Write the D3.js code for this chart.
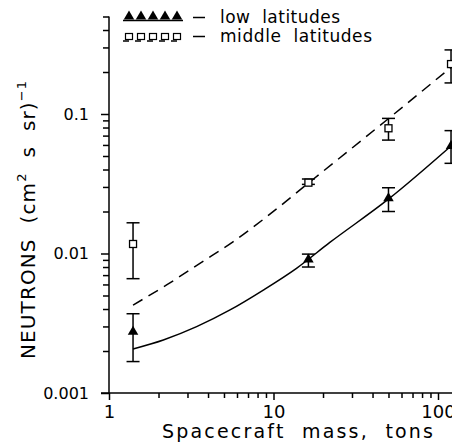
<!DOCTYPE html>
<html>
<head>
<meta charset="utf-8">
<script src="https://cdn.jsdelivr.net/npm/d3@7"></script>
<style>
  html, body { margin: 0; padding: 0; background: #fff; }
  svg { display: block; font-family: "DejaVu Sans", sans-serif; }
</style>
</head>
<body>
<svg width="455" height="444"></svg>
<script>
// data
const massTicks = [1, 10, 100];
const massMinor = [2, 3, 4, 5, 6, 7, 8, 9, 20, 30, 40, 50, 60, 70, 80, 90];
const fluxTicks = [0.001, 0.01, 0.1];
const fluxMinor = [0.002, 0.003, 0.004, 0.005, 0.006, 0.007, 0.008, 0.009,
  0.02, 0.03, 0.04, 0.05, 0.06, 0.07, 0.08, 0.09, 0.2, 0.3, 0.4, 0.5];
const fluxTickLabels = ["0.001", "0.01", "0.1"];

const pointMass = [1.4, 16.3, 50, 120];
const lowFlux = [0.0027, 0.0089, 0.0245, 0.058];
const lowErrHi = [0.0037, 0.0099, 0.0296, 0.076];
const lowErrLo = [0.00168, 0.0080, 0.0200, 0.0443];
const midFlux = [0.0117, 0.0322, 0.079, 0.228];
const midErrHi = [0.0166, 0.0342, 0.093, 0.288];
const midErrLo = [0.0066, 0.0313, 0.065, 0.167];

const lowCurveMass = [1.4, 2.14, 3.41, 5.44, 8.67, 13.8, 22.0, 49.9, 120];
const lowCurveFlux = [0.00207, 0.0024, 0.00299, 0.00394, 0.00547, 0.00783, 0.0120, 0.0245, 0.059];
const midCurveMass = [1.4, 2.24, 3.57, 5.70, 9.09, 16.7, 48.8, 120];
const midCurveFlux = [0.00427, 0.00595, 0.00851, 0.01216, 0.01835, 0.0327, 0.0906, 0.216];

const W = 455, H = 444;
const svg0 = d3.select("svg");

// the original figure is cut off a few pixels before the right edge
svg0.append("clipPath").attr("id", "crop")
  .append("rect").attr("x", 0).attr("y", 0).attr("width", 452).attr("height", H);
const svg = svg0.append("g").attr("clip-path", "url(#crop)");

x = d3.scaleLog().domain([1, 100]).range([109, 438]);
y = d3.scaleLog().domain([0.001, 0.1]).range([393, 114]);

// axes
const xAxisG = svg.append("g").attr("transform", `translate(0,${y(0.001)})`);
xAxisG.call(d3.axisBottom(x).tickValues(massTicks).tickSize(7).tickPadding(5).tickFormat(d3.format("d")))
  .call(g => g.select(".domain").remove());
xAxisG.append("g").call(d3.axisBottom(x).tickValues(massMinor).tickSize(5).tickFormat(""))
  .call(g => g.select(".domain").remove());
xAxisG.append("line")
  .attr("x1", x(1) - 8).attr("x2", W)
  .attr("stroke", "#000").attr("stroke-width", 1.5);
xAxisG.selectAll("text").attr("font-size", 18).attr("font-family", "DejaVu Sans");

const yAxisG = svg.append("g").attr("transform", `translate(${x(1)},0)`);
yAxisG.call(d3.axisLeft(y).tickValues(fluxTicks).tickSize(8)
    .tickFormat((d, i) => fluxTickLabels[i]).tickPadding(12))
  .call(g => g.select(".domain").remove());
yAxisG.append("g").call(d3.axisLeft(y).tickValues(fluxMinor).tickSize(6).tickFormat(""))
  .call(g => g.select(".domain").remove());
yAxisG.append("line")
  .attr("y1", y(0.001)).attr("y2", y(0.5))
  .attr("stroke", "#000").attr("stroke-width", 1.5);
yAxisG.selectAll("text").attr("font-size", 16).attr("font-family", "DejaVu Sans");
svg.selectAll(".tick line").attr("stroke-width", 1.5);

// curves
const line = d3.line().x(d => x(d[0])).y(d => y(d[1])).curve(d3.curveMonotoneX);
svg.append("path")
  .datum(d3.zip(lowCurveMass, lowCurveFlux))
  .attr("d", line).attr("fill", "none").attr("stroke", "#000").attr("stroke-width", 1.5);
svg.append("path")
  .datum(d3.zip(midCurveMass, midCurveFlux))
  .attr("d", line).attr("fill", "none").attr("stroke", "#000").attr("stroke-width", 1.5)
  .attr("stroke-dasharray", "11,7");

// error bars
const cap = 6.5;
function errorBars(hi, lo) {
  const g = svg.append("g").attr("stroke", "#000").attr("stroke-width", 1.5);
  pointMass.forEach((m, i) => {
    g.append("line").attr("x1", x(m)).attr("x2", x(m)).attr("y1", y(hi[i])).attr("y2", y(lo[i]));
    g.append("line").attr("x1", x(m) - cap).attr("x2", x(m) + cap).attr("y1", y(hi[i])).attr("y2", y(hi[i]));
    g.append("line").attr("x1", x(m) - cap).attr("x2", x(m) + cap).attr("y1", y(lo[i])).attr("y2", y(lo[i]));
  });
}
errorBars(lowErrHi, lowErrLo);
errorBars(midErrHi, midErrLo);

const tri = d3.symbol().type(d3.symbolTriangle).size(48);
svg.append("g").selectAll("path")
  .data(d3.zip(pointMass, lowFlux))
  .join("path")
  .attr("transform", d => `translate(${x(d[0])},${y(d[1]) - 1})`)
  .attr("d", tri).attr("fill", "#000");

svg.append("g").selectAll("rect")
  .data(d3.zip(pointMass, midFlux))
  .join("rect")
  .attr("x", d => x(d[0]) - 3.5).attr("y", d => y(d[1]) - 3.5)
  .attr("width", 7).attr("height", 7)
  .attr("fill", "#fff").attr("stroke", "#000").attr("stroke-width", 1.3);

// legend
const legendX = [129, 141, 153, 165, 177];
const legend = svg.append("g");
legend.selectAll("path").data(legendX).join("path")
  .attr("transform", d => `translate(${d},16.5)`)
  .attr("d", tri).attr("fill", "#000");
legend.append("line").attr("x1", 123).attr("x2", 183).attr("y1", 20.5).attr("y2", 20.5)
  .attr("stroke", "#000").attr("stroke-width", 1.5);
legend.selectAll("rect").data(legendX).join("rect")
  .attr("x", d => d - 3.5).attr("y", 33.5).attr("width", 7).attr("height", 6)
  .attr("fill", "#fff").attr("stroke", "#000").attr("stroke-width", 1.2);
legend.append("line").attr("x1", 123).attr("x2", 183).attr("y1", 41).attr("y2", 41)
  .attr("stroke", "#000").attr("stroke-width", 1.5).attr("stroke-dasharray", "6,6");

const legendLabels = ["low  latitudes", "middle  latitudes"];
const legendWidths = [120, 152];
legendLabels.forEach((t, i) => {
  const by = 23 + i * 19;
  legend.append("line").attr("x1", 193).attr("x2", 205).attr("y1", by - 5.5).attr("y2", by - 5.5)
    .attr("stroke", "#000").attr("stroke-width", 1.5);
  legend.append("text").attr("x", 220).attr("y", by)
    .attr("font-size", 17).attr("textLength", legendWidths[i]).attr("lengthAdjust", "spacing")
    .style("white-space", "pre")
    .text(t);
});

// axis titles
svg.append("text")
  .attr("x", 162).attr("y", 438)
  .attr("font-size", 19)
  .attr("textLength", 271).attr("lengthAdjust", "spacing")
  .style("white-space", "pre")
  .text("Spacecraft  mass,  tons");

const yl = svg.append("text")
  .attr("transform", "translate(35,220) rotate(-90)")
  .attr("text-anchor", "middle")
  .attr("font-size", 20)
  .attr("textLength", 278).attr("lengthAdjust", "spacing")
  .style("white-space", "pre");
yl.append("tspan").text("NEUTRONS  (cm");
yl.append("tspan").attr("dy", -9).attr("font-size", 13).text("2");
yl.append("tspan").attr("dy", 9).text("  s  sr)");
yl.append("tspan").attr("dy", -9).attr("font-size", 13).text("−1");
</script>
</body>
</html>
